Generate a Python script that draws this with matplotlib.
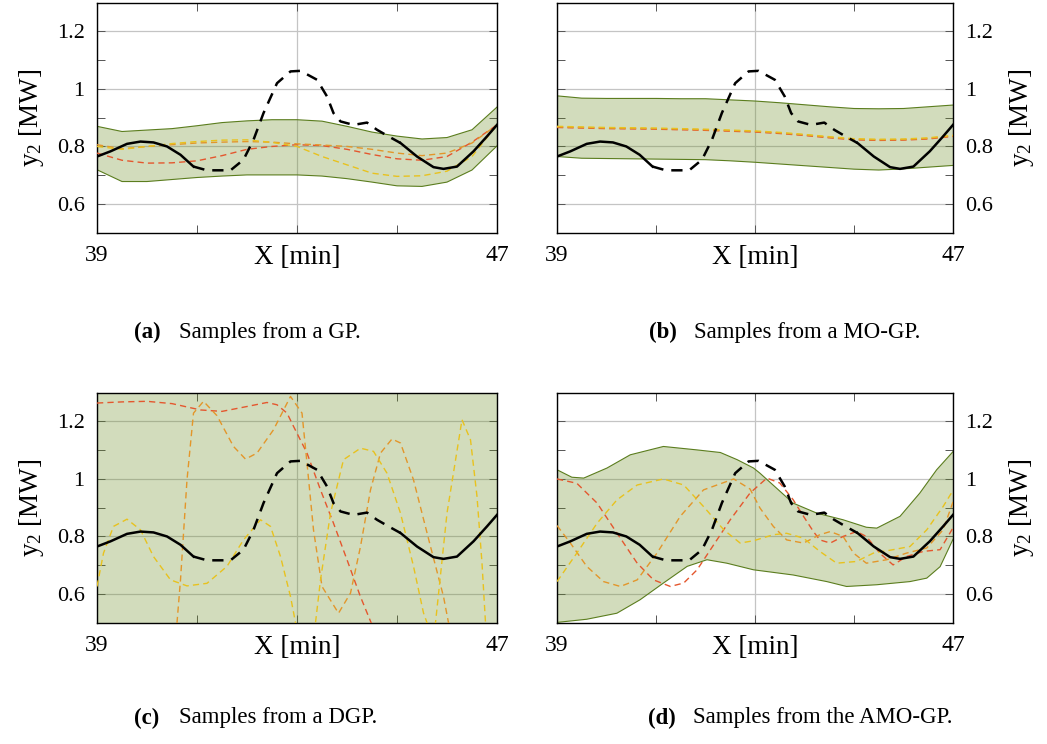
import numpy as np
import matplotlib
matplotlib.use('Agg')
import matplotlib.pyplot as plt

plt.rcParams['font.family'] = ['Liberation Serif', 'DejaVu Serif']
plt.rcParams['mathtext.fontset'] = 'custom'
plt.rcParams['mathtext.rm'] = 'Liberation Serif'

# ground truth (solid = observed, dashed = held out)
truth_x = [39.0, 39.27, 39.6, 39.87, 40.13, 40.4, 40.67, 40.93, 41.2, 41.67, 41.93, 42.13, 42.33, 42.6, 42.87, 43.07,
           43.4, 43.6, 43.73, 43.87, 44.13, 44.4, 44.6, 44.83, 45.07, 45.4, 45.73, 45.93, 46.2, 46.53, 46.8, 47.0]
truth_y = [0.765, 0.783, 0.809, 0.817, 0.814, 0.800, 0.771, 0.730, 0.717, 0.717, 0.754, 0.823, 0.916, 1.020, 1.061, 1.063,
           1.032, 0.974, 0.916, 0.887, 0.875, 0.883, 0.858, 0.835, 0.812, 0.765, 0.728, 0.722, 0.730, 0.783, 0.835, 0.875]
test_start, test_end = 40.93, 45.07

# (a) GP
gp_x = [39.0, 39.5, 40.0, 40.5, 41.0, 41.5, 42.0, 42.5, 43.0, 43.5, 44.0, 44.5, 45.0, 45.5, 46.0, 46.5, 47.0]
gp_upper = [0.870, 0.852, 0.857, 0.862, 0.872, 0.883, 0.889, 0.893, 0.893, 0.888, 0.870, 0.850, 0.836, 0.826, 0.831, 0.858, 0.937]
gp_lower = [0.719, 0.678, 0.678, 0.685, 0.692, 0.697, 0.701, 0.701, 0.701, 0.697, 0.688, 0.676, 0.663, 0.661, 0.676, 0.718, 0.802]
gp_red = [0.777, 0.752, 0.742, 0.743, 0.750, 0.768, 0.790, 0.800, 0.806, 0.803, 0.790, 0.772, 0.757, 0.752, 0.765, 0.815, 0.875]
gp_orange = [0.806, 0.792, 0.800, 0.806, 0.812, 0.815, 0.817, 0.815, 0.809, 0.805, 0.800, 0.790, 0.777, 0.768, 0.777, 0.812, 0.875]
gp_yellow = [0.800, 0.790, 0.800, 0.810, 0.817, 0.822, 0.823, 0.814, 0.800, 0.765, 0.736, 0.707, 0.696, 0.698, 0.714, 0.765, 0.875]

# (b) MO-GP
mogp_upper = [0.976, 0.968, 0.967, 0.967, 0.967, 0.966, 0.966, 0.962, 0.958, 0.952, 0.945, 0.938, 0.932, 0.931, 0.932, 0.938, 0.944]
mogp_lower = [0.765, 0.759, 0.758, 0.757, 0.756, 0.755, 0.754, 0.750, 0.745, 0.739, 0.733, 0.727, 0.721, 0.718, 0.722, 0.728, 0.734]
mogp_red = [0.866, 0.864, 0.862, 0.861, 0.860, 0.858, 0.856, 0.853, 0.850, 0.845, 0.838, 0.830, 0.823, 0.821, 0.822, 0.826, 0.835]
mogp_orange = [0.868, 0.866, 0.864, 0.863, 0.862, 0.860, 0.858, 0.855, 0.852, 0.847, 0.840, 0.832, 0.825, 0.823, 0.824, 0.828, 0.837]
mogp_yellow = [0.870, 0.868, 0.866, 0.865, 0.864, 0.862, 0.860, 0.857, 0.854, 0.849, 0.842, 0.834, 0.827, 0.825, 0.826, 0.830, 0.839]

# (c) DGP
dgp_band_x = [39.0, 47.0]
dgp_upper = [1.9, 1.9]
dgp_lower = [0.1, 0.1]
dgp_red_x = [39.0, 39.5, 40.0, 40.5, 41.07, 41.5, 42.0, 42.4, 42.6, 42.8, 42.93, 43.2, 43.47, 43.73, 44.0, 44.27, 44.6, 45.0]
dgp_red_y = [1.264, 1.268, 1.270, 1.262, 1.240, 1.235, 1.252, 1.266, 1.258, 1.229, 1.183, 1.090, 0.962, 0.846, 0.719, 0.590, 0.45, 0.35]
dgp_orange_x = [39.0, 40.0, 40.6, 40.67, 40.8, 40.93, 41.13, 41.4, 41.73, 41.97, 42.2, 42.53, 42.87, 43.1, 43.2, 43.33,
                43.5, 43.83, 44.07, 44.27, 44.47, 44.67, 44.9, 45.07, 45.33, 45.67, 45.93, 46.03, 46.5, 47.0]
dgp_orange_y = [0.30, 0.35, 0.50, 0.649, 0.997, 1.229, 1.270, 1.220, 1.113, 1.069, 1.090, 1.171, 1.287, 1.229, 1.055, 0.823,
                0.626, 0.533, 0.603, 0.765, 0.962, 1.090, 1.139, 1.125, 0.997, 0.765, 0.591, 0.50, 0.35, 0.30]
dgp_yellow_x = [39.0, 39.13, 39.33, 39.6, 39.87, 40.13, 40.47, 40.8, 41.2, 41.6, 41.93, 42.27, 42.47, 42.67, 42.87, 42.97,
                43.17, 43.37, 43.47, 43.67, 43.93, 44.27, 44.53, 44.8, 45.07, 45.33, 45.53, 45.6, 45.68, 45.77, 46.0,
                46.3, 46.47, 46.6, 46.7, 46.77, 47.0]
dgp_yellow_y = [0.626, 0.742, 0.835, 0.860, 0.823, 0.730, 0.649, 0.628, 0.637, 0.696, 0.788, 0.858, 0.835, 0.730, 0.591, 0.500,
                0.40, 0.500, 0.649, 0.881, 1.067, 1.107, 1.096, 1.020, 0.881, 0.696, 0.534, 0.500, 0.45, 0.500, 0.881,
                1.206, 1.136, 0.939, 0.707, 0.500, 0.30]

# (d) AMO-GP
amo_upper_x = [39.0, 39.3, 39.54, 40.01, 40.48, 41.15, 41.83, 42.3, 42.64, 42.97, 43.1, 43.77, 44.25, 44.78, 45.25, 45.46,
               45.93, 46.33, 46.67, 47.0]
amo_upper = [1.032, 1.006, 1.003, 1.038, 1.084, 1.113, 1.101, 1.092, 1.067, 1.038, 1.020, 0.916, 0.881, 0.858, 0.832, 0.829,
             0.870, 0.951, 1.032, 1.095]
amo_lower_x = [39.0, 39.6, 40.21, 40.68, 41.15, 41.63, 42.03, 42.43, 42.97, 43.77, 44.45, 44.85, 45.46, 46.13, 46.47, 46.74, 47.0]
amo_lower = [0.501, 0.512, 0.533, 0.580, 0.638, 0.696, 0.719, 0.707, 0.684, 0.666, 0.643, 0.626, 0.632, 0.643, 0.655, 0.695, 0.790]
amo_red_x = [39.0, 39.4, 39.81, 40.21, 40.62, 40.95, 41.29, 41.56, 41.83, 42.1, 42.5, 42.9, 43.24, 43.5, 43.77, 43.98, 44.18,
             44.31, 44.52, 44.78, 45.05, 45.25, 45.52, 45.79, 46.06, 46.4, 46.74, 47.0]
amo_red_y = [1.000, 0.985, 0.916, 0.812, 0.707, 0.649, 0.626, 0.638, 0.684, 0.754, 0.858, 0.951, 1.003, 0.986, 0.928, 0.870, 0.817,
             0.788, 0.777, 0.800, 0.817, 0.800, 0.742, 0.701, 0.730, 0.748, 0.754, 0.830]
amo_orange_x = [39.0, 39.27, 39.6, 39.94, 40.28, 40.62, 41.02, 41.49, 41.96, 42.57, 42.9, 43.1, 43.37, 43.64, 43.98, 44.31,
                44.52, 44.78, 44.99, 45.25, 45.66, 46.06, 46.47, 46.8, 47.0]
amo_orange_y = [0.838, 0.777, 0.696, 0.643, 0.626, 0.649, 0.742, 0.870, 0.962, 1.000, 0.965, 0.899, 0.835, 0.788, 0.777, 0.806,
                0.817, 0.800, 0.742, 0.707, 0.719, 0.742, 0.760, 0.823, 0.920]
amo_yellow_x = [39.0, 39.4, 39.81, 40.21, 40.62, 41.15, 41.56, 41.96, 42.37, 42.7, 42.97, 43.37, 43.64, 43.98, 44.31, 44.65,
                45.05, 45.39, 45.79, 46.13, 46.47, 46.8, 47.0]
amo_yellow_y = [0.643, 0.742, 0.846, 0.927, 0.979, 1.000, 0.979, 0.904, 0.823, 0.777, 0.785, 0.806, 0.811, 0.794, 0.748, 0.707,
                0.713, 0.742, 0.754, 0.765, 0.823, 0.904, 0.960]

captions = [('(a)', 'Samples from a GP.'), ('(b)', 'Samples from a MO-GP.'),
            ('(c)', 'Samples from a DGP.'), ('(d)', 'Samples from the AMO-GP.')]

RED, ORANGE, YELLOW = '#e4572e', '#e3962a', '#e8c21e'
BAND, EDGE = '#6b8e23', '#5b7d1e'


def panel(ax, ux, up, lx, lo, samples, right=False):
    px = np.concatenate([ux, lx[::-1]])
    py = np.concatenate([up, lo[::-1]])
    ax.fill(px, py, facecolor=BAND, alpha=0.3, edgecolor='none', zorder=2)
    ax.plot(ux, up, color=EDGE, lw=0.8, zorder=2.1)
    ax.plot(lx, lo, color=EDGE, lw=0.8, zorder=2.1)
    for sx, sy, c in samples:
        ax.plot(sx, sy, color=c, lw=1.0, dashes=(4.5, 3), zorder=3)
    tx = np.array(truth_x)
    ty = np.array(truth_y)
    m1 = tx <= test_start
    m2 = (tx >= test_start) & (tx <= test_end)
    m3 = tx >= test_end
    ax.plot(tx[m1], ty[m1], color='black', lw=1.8, zorder=4)
    ax.plot(tx[m2], ty[m2], color='black', lw=1.8, dashes=(4.5, 3.2), zorder=4)
    ax.plot(tx[m3], ty[m3], color='black', lw=1.8, zorder=4)

    ax.set_xlim(39, 47)
    ax.set_ylim(0.5, 1.3)
    ax.tick_params(which='both', direction='in', top=True, right=True, length=6, width=0.7, color='#555555')
    ax.tick_params(axis='x', which='major', pad=9, labelsize=17)
    ax.tick_params(axis='y', which='major', pad=9, labelsize=16)
    ax.set_xticks([39, 43, 47])
    ax.set_xticks([41, 45], minor=True)
    ax.set_xticklabels(['39', 'X [min]', '47'])
    ax.get_xticklabels()[1].set_fontsize(19.5)
    ax.set_yticks([0.6, 0.8, 1.0, 1.2])
    ax.set_yticks([0.7, 0.9, 1.1], minor=True)
    ax.set_yticklabels(['0.6', '0.8', '1', '1.2'])
    ax.grid(True, which='major', color='#c4c4c4', lw=0.9, zorder=1.5)
    for s in ax.spines.values():
        s.set_linewidth(1.0)
    if right:
        ax.yaxis.tick_right()
        ax.tick_params(which='both', direction='in', left=True, right=True)
        ax.yaxis.set_label_position('right')
        ax.set_ylabel(r'$\mathregular{y_2}$ [MW]', fontsize=19.5, labelpad=10, rotation=90)
    else:
        ax.set_ylabel(r'$\mathregular{y_2}$ [MW]', fontsize=19.5, labelpad=8)


fig = plt.figure(figsize=(10.47, 7.44), dpi=100)
W, H = 1047, 744
rects = [(97, 2.7, 400, 230), (557, 2.7, 396, 230), (97, 392.7, 400, 230), (557, 392.7, 396, 230)]
axes = [fig.add_axes([x / W, 1 - (y + h) / H, w / W, h / H]) for x, y, w, h in rects]

panel(axes[0], gp_x, gp_upper, gp_x, gp_lower,
      [(gp_x, gp_red, RED), (gp_x, gp_orange, ORANGE), (gp_x, gp_yellow, YELLOW)])
panel(axes[1], gp_x, mogp_upper, gp_x, mogp_lower,
      [(gp_x, mogp_red, RED), (gp_x, mogp_orange, ORANGE), (gp_x, mogp_yellow, YELLOW)], right=True)
panel(axes[2], dgp_band_x, dgp_upper, dgp_band_x, dgp_lower,
      [(dgp_red_x, dgp_red_y, RED), (dgp_orange_x, dgp_orange_y, ORANGE), (dgp_yellow_x, dgp_yellow_y, YELLOW)])
panel(axes[3], amo_upper_x, amo_upper, amo_lower_x, amo_lower,
      [(amo_red_x, amo_red_y, RED), (amo_orange_x, amo_orange_y, ORANGE), (amo_yellow_x, amo_yellow_y, YELLOW)],
      right=True)

cap_pos = [(134, 332), (649, 332), (134, 718), (648, 718)]
for (lab, txt), (cx, cy) in zip(captions, cap_pos):
    fig.text(cx / W, 1 - cy / H, lab, fontsize=16.5, fontweight='bold', ha='left', va='center')
    fig.text((cx + 45) / W, 1 - cy / H, txt, fontsize=16.5, ha='left', va='center')

fig.savefig('out.png', dpi=100)
